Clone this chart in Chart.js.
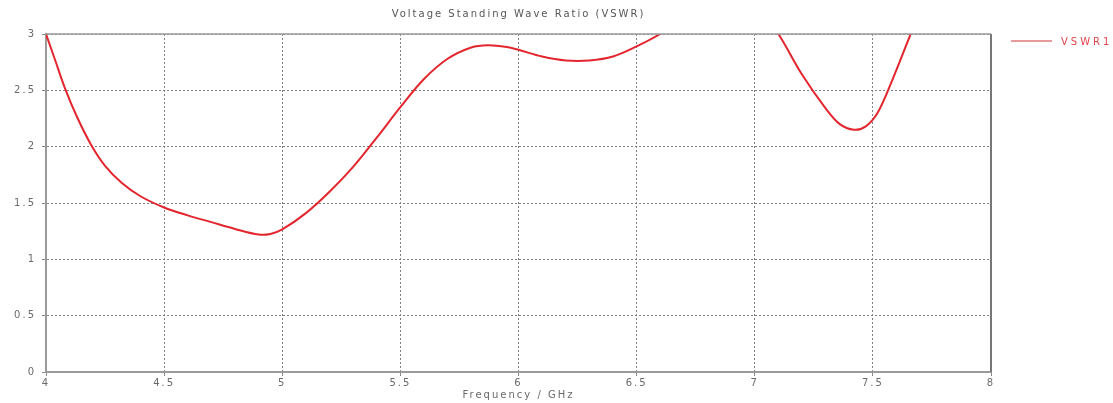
<!DOCTYPE html>
<html lang="en">
<head>
  <meta charset="UTF-8" />
  <title>VSWR</title>
  <script src="https://cdn.jsdelivr.net/npm/chart.js"></script>
  <style>
    html, body {
      margin: 0;
      padding: 0;
      background: #fff;
    }
    #vswrChart {
      display: block;
    }
  </style>
</head>
<body>
<canvas id="vswrChart" width="1113" height="403"></canvas>

<script>
  // frequency in GHz and the VSWR read at each point
  const frequencias = [
    4.0, 4.04, 4.08, 4.13, 4.19, 4.25, 4.32, 4.4, 4.5, 4.6,
    4.7, 4.8, 4.9, 4.95, 5.0, 5.1, 5.2, 5.3, 5.4, 5.5,
    5.6, 5.7, 5.8, 5.87, 5.95, 6.0, 6.1, 6.2, 6.3, 6.4,
    6.5, 6.6, 6.75, 6.9, 7.0, 7.1, 7.2, 7.3, 7.36, 7.42,
    7.47, 7.52, 7.58, 7.66, 7.72
  ];
  const vswr = [
    3.0, 2.76, 2.52, 2.27, 2.02, 1.83, 1.68, 1.56, 1.46, 1.39,
    1.33, 1.27, 1.22, 1.225, 1.265, 1.41, 1.6, 1.82, 2.08, 2.35,
    2.6, 2.78, 2.88, 2.9, 2.885, 2.86, 2.8, 2.765, 2.765, 2.8,
    2.89, 3.0, 3.2, 3.32, 3.28, 3.0, 2.64, 2.34, 2.2, 2.15,
    2.18, 2.3, 2.58, 3.0, 3.3
  ];
  const ticksX = ['4', '4.5', '5', '5.5', '6', '6.5', '7', '7.5', '8'];
  const ticksY = ['0', '0.5', '1', '1.5', '2', '2.5', '3'];

  const titulo = 'Voltage Standing Wave Ratio (VSWR)';
  const tituloEixoX = 'Frequency / GHz';
  const nomeSerie = 'VSWR1';

  const corTexto = '#6a6a6a';
  const corLinha = '#e3262e';
  const fonte = '"DejaVu Sans", sans-serif';

  // titulo, rotulo do eixo, legenda e moldura do grafico
  const extras = {
    id: 'extras',
    beforeDraw(chart) {
      chart.ctx.letterSpacing = '2px';
    },
    afterDatasetsDraw(chart) {
      const { ctx, chartArea: a } = chart;
      ctx.save();
      ctx.letterSpacing = '2px';
      ctx.font = '10px ' + fonte;
      ctx.textAlign = 'center';
      ctx.textBaseline = 'middle';
      ctx.fillStyle = '#555';
      ctx.fillText(titulo, (a.left + a.right) / 2, 14);
      ctx.fillStyle = corTexto;
      ctx.fillText(tituloEixoX, (a.left + a.right) / 2, 395);

      // moldura superior e direita
      ctx.strokeStyle = '#9a9a9a';
      ctx.lineWidth = 1.5;
      ctx.beginPath();
      ctx.moveTo(a.left, a.top);
      ctx.lineTo(a.right, a.top);
      ctx.stroke();
      ctx.strokeStyle = '#777';
      ctx.lineWidth = 2;
      ctx.beginPath();
      ctx.moveTo(a.right, a.top);
      ctx.lineTo(a.right, a.bottom);
      ctx.stroke();

      // legenda
      ctx.strokeStyle = '#e07a7e';
      ctx.lineWidth = 1.5;
      ctx.beginPath();
      ctx.moveTo(1011, 41);
      ctx.lineTo(1052, 41);
      ctx.stroke();
      ctx.textAlign = 'left';
      ctx.letterSpacing = '3px';
      ctx.fillStyle = '#e0454b';
      ctx.fillText(nomeSerie, 1061, 42);
      ctx.restore();
    }
  };

  const grade = {
    color: '#808080',
    tickColor: '#888',
    tickLength: 4,
    lineWidth: 1,
  };

  new Chart(document.getElementById('vswrChart'), {
    type: 'line',
    data: {
      datasets: [
        {
          label: nomeSerie,
          data: frequencias.map((f, i) => ({ x: f, y: vswr[i] })),
          borderColor: corLinha,
          borderWidth: 2,
          pointRadius: 0,
          tension: 0.35,
          fill: false,
        },
      ],
    },
    options: {
      responsive: false,
      animation: false,
      devicePixelRatio: 1,
      layout: { padding: { top: 34, right: 122, left: 0, bottom: 0 } },
      plugins: {
        legend: { display: false },
        title: { display: false },
        tooltip: { enabled: false },
      },
      scales: {
        x: {
          type: 'linear',
          min: 4,
          max: 8,
          afterFit: (s) => { s.height = 31; },
          afterBuildTicks: (s) => {
            s.ticks = ticksX.map((t) => ({ value: parseFloat(t) }));
          },
          ticks: {
            callback: (v) => ticksX.find((t) => parseFloat(t) === v),
            font: { family: fonte, size: 10 },
            color: corTexto,
            padding: 1,
            maxRotation: 0,
            autoSkip: false,
          },
          grid: grade,
          border: { color: '#9a9a9a', width: 2, dash: [2, 2] },
        },
        y: {
          min: 0,
          max: 3,
          afterFit: (s) => { s.width = 46; },
          afterBuildTicks: (s) => {
            s.ticks = ticksY.map((t) => ({ value: parseFloat(t) }));
          },
          ticks: {
            callback: (v) => ticksY.find((t) => parseFloat(t) === v),
            font: { family: fonte, size: 10 },
            color: corTexto,
            padding: 6,
          },
          grid: grade,
          border: { color: '#9a9a9a', width: 2, dash: [2, 2] },
        },
      },
    },
    plugins: [extras],
  });
</script>
</body>
</html>
